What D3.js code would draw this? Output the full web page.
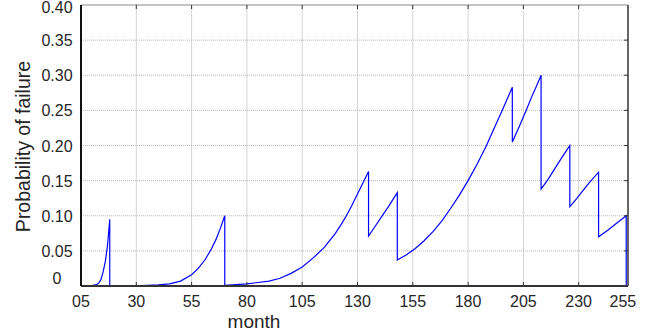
<!DOCTYPE html>
<html>
<head>
<meta charset="utf-8">
<script src="https://cdn.jsdelivr.net/npm/d3@7"></script>
<style>
  body { margin: 0; background: #fff; }
  text { font-family: "Liberation Sans", Arial, sans-serif; fill: #262626; }
</style>
</head>
<body>
<div id="chart"></div>
<script>
// month of each reading (a repeated month = the drop after maintenance)
var months = [5, 8, 10, 12, 13, 14, 15, 16, 17, 18,
  18, 25, 30, 35, 40, 45, 50, 55, 58, 61, 64, 66, 68, 70,
  70, 75, 80, 85, 90, 95, 100, 105, 110, 115, 120, 122.5, 125, 127.5, 130, 132.5, 135,
  135, 138, 141, 144, 146, 148,
  148, 152, 156, 160, 164, 168, 172, 176, 180, 184, 188, 192, 196, 200,
  200, 203, 206, 209, 211, 213,
  213, 216, 219, 222, 226,
  226, 229, 232, 235, 239,
  239, 243, 247, 251.5,
  251.5];

var failure = [0, 0, 0.0005, 0.002, 0.004, 0.009, 0.02, 0.035, 0.058, 0.095,
  0, 0.0001, 0.0003, 0.0008, 0.0015, 0.003, 0.007, 0.016, 0.025, 0.037, 0.053, 0.066, 0.082, 0.100,
  0.001, 0.002, 0.003, 0.005, 0.007, 0.011, 0.018, 0.027, 0.040, 0.055, 0.075, 0.087, 0.100, 0.115, 0.131, 0.147, 0.163,
  0.071, 0.085, 0.099, 0.113, 0.123, 0.133,
  0.037, 0.044, 0.053, 0.064, 0.077, 0.092, 0.110, 0.129, 0.150, 0.173, 0.198, 0.226, 0.254, 0.283,
  0.205, 0.226, 0.248, 0.271, 0.285, 0.300,
  0.138, 0.151, 0.166, 0.181, 0.200,
  0.113, 0.124, 0.136, 0.148, 0.162,
  0.070, 0.079, 0.089, 0.100,
  0];

var xTicks = [5, 30, 55, 80, 105, 130, 155, 180, 205, 230, 250];
var xTickLabels = ["05", "30", "55", "80", "105", "130", "155", "180", "205", "230", "255"];
var yTicks = [0, 0.05, 0.10, 0.15, 0.20, 0.25, 0.30, 0.35, 0.40];
var yTickLabels = ["0", "0.05", "0.10", "0.15", "0.20", "0.25", "0.30", "0.35", "0.40"];

var svgWidth = 662;
var svgHeight = 331;
var margin = { top: 5, right: 34, bottom: 45, left: 81 };
var width = svgWidth - margin.left - margin.right;
var height = svgHeight - margin.top - margin.bottom;

var svg = d3.select("#chart")
  .append("svg")
  .attr("width", svgWidth)
  .attr("height", svgHeight);

var chartGroup = svg.append("g")
  .attr("transform", `translate(${margin.left}, ${margin.top})`);

var xScale = d3.scaleLinear().domain([5, 252.3]).range([0, width]);
var yScale = d3.scaleLinear().domain([0, 0.4]).range([height, 0]);

// grid
chartGroup.selectAll(".vgrid")
  .data(xTicks.slice(1, 10))
  .enter()
  .append("line")
  .attr("x1", d => xScale(d)).attr("x2", d => xScale(d))
  .attr("y1", 0).attr("y2", height)
  .attr("stroke", "#d4d4d4")
  .attr("stroke-width", 1);

chartGroup.selectAll(".hgrid")
  .data(yTicks.slice(1, 8))
  .enter()
  .append("line")
  .attr("x1", 0).attr("x2", width)
  .attr("y1", d => yScale(d)).attr("y2", d => yScale(d))
  .attr("stroke", "#b8b8b8")
  .attr("stroke-dasharray", "1,1")
  .attr("stroke-width", 1);

// the curve
var points = months.map((m, i) => [m, failure[i]]);
var line = d3.line()
  .x(d => xScale(d[0]))
  .y(d => yScale(d[1]));

chartGroup.append("path")
  .datum(points)
  .attr("d", line)
  .attr("fill", "none")
  .attr("stroke", "#0000ff")
  .attr("stroke-width", 1.2);

// box
chartGroup.append("line")
  .attr("x1", 0).attr("x2", width).attr("y1", 0).attr("y2", 0)
  .attr("stroke", "#8a8a8a").attr("stroke-width", 1);
chartGroup.append("line")
  .attr("x1", width).attr("x2", width).attr("y1", 0).attr("y2", height)
  .attr("stroke", "#333").attr("stroke-width", 1.5);
chartGroup.append("line")
  .attr("x1", 0).attr("x2", width).attr("y1", height).attr("y2", height)
  .attr("stroke", "#333").attr("stroke-width", 2);
chartGroup.append("line")
  .attr("x1", 0).attr("x2", 0).attr("y1", 0).attr("y2", height)
  .attr("stroke", "#111").attr("stroke-width", 2);

// inward tick marks
chartGroup.selectAll(".xtickb")
  .data(xTicks.slice(1, 10))
  .enter()
  .append("line")
  .attr("x1", d => xScale(d)).attr("x2", d => xScale(d))
  .attr("y1", height).attr("y2", height - 4)
  .attr("stroke", "#333");
chartGroup.selectAll(".xtickt")
  .data(xTicks.slice(1, 10))
  .enter()
  .append("line")
  .attr("x1", d => xScale(d)).attr("x2", d => xScale(d))
  .attr("y1", 0).attr("y2", 4)
  .attr("stroke", "#333");
chartGroup.selectAll(".ytickr")
  .data(yTicks.slice(1, 8))
  .enter()
  .append("line")
  .attr("x1", width).attr("x2", width - 4)
  .attr("y1", d => yScale(d)).attr("y2", d => yScale(d))
  .attr("stroke", "#333");

// tick labels
chartGroup.selectAll(".xlabel")
  .data(xTicks)
  .enter()
  .append("text")
  .attr("x", d => xScale(d))
  .attr("y", height + 20.5)
  .attr("text-anchor", "middle")
  .attr("font-size", "16px")
  .text((d, i) => xTickLabels[i]);

chartGroup.selectAll(".ylabel")
  .data(yTicks)
  .enter()
  .append("text")
  .attr("x", 57 - margin.left)
  .attr("y", d => yScale(d))
  .attr("dy", (d, i) => i == 0 ? "-0.1em" : (i == 8 ? "0.5em" : "0.38em"))
  .attr("text-anchor", "middle")
  .attr("font-size", "16px")
  .text((d, i) => yTickLabels[i]);

// axis titles
svg.append("text")
  .attr("transform", "translate(30, 146.5) rotate(-90)")
  .attr("text-anchor", "middle")
  .attr("font-size", "19.5px")
  .text("Probability of failure");

svg.append("text")
  .attr("x", 254)
  .attr("y", 327.5)
  .attr("text-anchor", "middle")
  .attr("font-size", "19px")
  .text("month");
</script>
</body>
</html>
